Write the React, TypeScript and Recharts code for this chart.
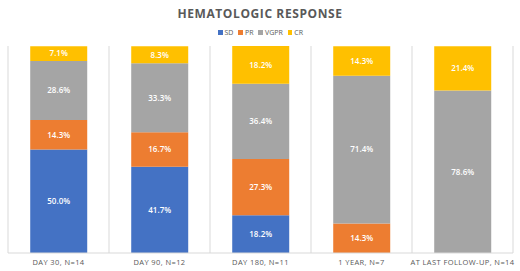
import React from 'react';
import { BarChart, Bar, XAxis, YAxis, CartesianGrid, Legend, LabelList } from 'recharts';

const categories = ['DAY 30, N=14', 'DAY 90, N=12', 'DAY 180, N=11', '1 YEAR, N=7', 'AT LAST FOLLOW-UP, N=14'];
const sd = [50.0, 41.7, 18.2, 0, 0];
const pr = [14.3, 16.7, 27.3, 14.3, 0];
const vgpr = [28.6, 33.3, 36.4, 71.4, 78.6];
const cr = [7.1, 8.3, 18.2, 14.3, 21.4];

const seriesNames = ['SD', 'PR', 'VGPR', 'CR'];
const seriesColors = ['#4472C4', '#ED7D31', '#A5A5A5', '#FFC000'];

const data = categories.map((c, i) => ({ name: c, SD: sd[i], PR: pr[i], VGPR: vgpr[i], CR: cr[i] }));

const FONT = '"Open Sans", "Noto Sans", sans-serif';

const fmt = (v: any) => (v && Number(v) > 0 ? `${Number(v).toFixed(1)}%` : '');

const renderLegend = () => (
  <div style={{ display: 'flex', justifyContent: 'center', gap: 5, fontFamily: FONT, fontSize: 7, color: '#595959' }}>
    {seriesNames.map((n, i) => (
      <span key={n} style={{ display: 'flex', alignItems: 'center' }}>
        <span style={{ width: 4.5, height: 4.5, background: seriesColors[i], display: 'inline-block', marginRight: 2 }} />
        {n}
      </span>
    ))}
  </div>
);

export default function App() {
  return (
    <div style={{ position: 'absolute', left: 0, top: 0, width: 520, height: 271, background: '#fff' }}>
      <div style={{ position: 'absolute', top: 5, left: 0, width: 520, textAlign: 'center', fontFamily: FONT, fontWeight: 700, fontSize: 12, letterSpacing: 0.6, color: '#595959' }}>
        HEMATOLOGIC RESPONSE
      </div>
      <BarChart width={520} height={271} data={data} margin={{ top: 46, right: 7, bottom: 0, left: 8 }} barCategoryGap="22%">
        <CartesianGrid
          horizontal={false}
          stroke="#D9D9D9"
          verticalCoordinatesGenerator={({ offset }: any) =>
            Array.from({ length: categories.length + 1 }, (_, i) => offset.left + (i * offset.width) / categories.length)
          }
        />
        <XAxis dataKey="name" height={18} axisLine={{ stroke: '#D9D9D9' }} tickLine={false} tickSize={5} interval={0}
          tick={{ fontFamily: FONT, fontSize: 7.5, fill: '#595959', letterSpacing: 0.4 }} />
        <YAxis hide domain={[0, 100]} />
        <Legend verticalAlign="top" content={renderLegend} wrapperStyle={{ top: 28, height: 0, overflow: 'visible' }} />
        {seriesNames.map((n, i) => (
          <Bar key={n} dataKey={n} stackId="a" fill={seriesColors[i]} isAnimationActive={false}>
            <LabelList dataKey={n} position="center" formatter={fmt} fill="#fff" style={{ fontFamily: FONT, fontSize: 8, fontWeight: 600 }} />
          </Bar>
        ))}
      </BarChart>
    </div>
  );
}
